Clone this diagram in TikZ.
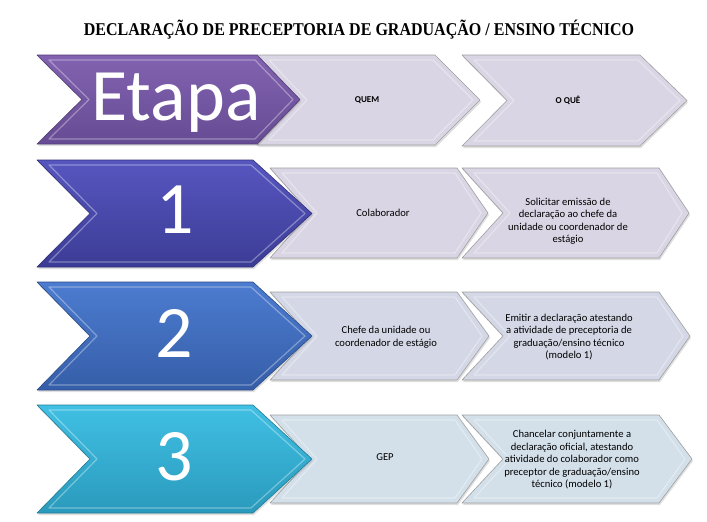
\documentclass[tikz,border=0pt]{standalone}
\usepackage{fontspec}
\setmainfont{Liberation Serif}
\newfontfamily\calibri{Carlito}
\usepackage{tikz}
\usetikzlibrary{shadows}

\definecolor{etapatop}{RGB}{130, 98, 176}
\definecolor{etapabot}{RGB}{102, 76, 148}
\definecolor{onetop}{RGB}{86, 86, 192}
\definecolor{onebot}{RGB}{60, 60, 150}
\definecolor{twotop}{RGB}{76, 124, 208}
\definecolor{twobot}{RGB}{54, 94, 168}
\definecolor{threetop}{RGB}{64, 192, 228}
\definecolor{threebot}{RGB}{42, 154, 188}
\definecolor{graylav}{RGB}{217, 213, 228}
\definecolor{grayblue}{RGB}{212, 216, 230}
\definecolor{graycyan}{RGB}{211, 224, 234}

% chevron: left, notch, shoulder, tip, top, bottom, style
\newcommand{\chevron}[7]{%
  \path[#7] (#1,#5) -- (#3,#5) -- (#4,{(#5+#6)/2}) -- (#3,#6) -- (#1,#6) -- (#2,{(#5+#6)/2}) -- cycle;
  \draw[bevel] ({#1+12},{#5+5}) -- ({#3-2},{#5+5}) -- ({#4-7},{(#5+#6)/2}) -- ({#3-2},{#6-5}) -- ({#1+12},{#6-5}) -- ({#2+7},{(#5+#6)/2}) -- cycle;
}

\begin{document}
\begin{tikzpicture}[x=1pt, y=-1pt,
  bevel/.style={white, opacity=.35, line width=1.2pt, line join=round},
  greybox/.style={fill=#1, draw=gray!75, line width=.6pt, line join=round,
    drop shadow={opacity=.25, shadow xshift=1pt, shadow yshift=-2pt}},
  stepbox/.style={top color=#1top, bottom color=#1bot, draw=#1bot!80!black, line width=.6pt, line join=round,
    drop shadow={opacity=.25, shadow xshift=1pt, shadow yshift=-2pt}},
  bignum/.style={anchor=base, text=white, font=\calibri\fontsize{74}{80}\selectfont},
  cell/.style={align=center, inner sep=0pt, font=\calibri\fontsize{10.6}{12.5}\selectfont},
  head/.style={inner sep=0pt, font=\calibri\bfseries\fontsize{9}{11}\selectfont}]
  \useasboundingbox[fill=white] (0,0) rectangle (707,522);

  % Title
  \node[anchor=base] (title) at (359,35) {\scalebox{0.89}[1]{\fontsize{18}{20}\selectfont\bfseries DECLARAÇÃO DE PRECEPTORIA DE GRADUAÇÃO / ENSINO TÉCNICO}};

  % Header row
  \chevron{462}{507}{640}{687}{55}{146}{greybox=graylav}
  \chevron{257}{300}{435}{480}{55}{145}{greybox=graylav}
  \chevron{37}{82}{257}{300}{55}{144}{stepbox=etapa}
  \node[bignum] (etapa) at (176,120) {Etapa};
  \node[head] (quem) at (367,100) {QUEM};
  \node[head] (oque) at (568,100) {O QUÊ};

  % Step 1
  \chevron{462}{503}{659}{689}{168}{258}{greybox=graylav}
  \chevron{270}{310}{457}{488}{168}{258}{greybox=graylav}
  \chevron{37}{90}{253}{312}{160}{267}{stepbox=one}
  \node[bignum] (num1) at (175,233) {1};
  \node[cell] (who1) at (383,213) {Colaborador};
  \node[cell] (what1) at (568,221) {Solicitar emissão de\\declaração ao chefe da\\unidade ou coordenador de\\estágio};

  % Step 2
  \chevron{462}{503}{659}{690}{292}{380}{greybox=grayblue}
  \chevron{270}{310}{457}{489}{292}{380}{greybox=grayblue}
  \chevron{37}{90}{253}{312}{282}{390}{stepbox=two}
  \node[bignum] (num2) at (174,357) {2};
  \node[cell] (who2) at (386,337) {Chefe da unidade ou\\coordenador de estágio};
  \node[cell] (what2) at (569,337) {Emitir a declaração atestando\\a atividade de preceptoria de\\graduação/ensino técnico\\(modelo 1)};

  % Step 3
  \chevron{462}{503}{659}{692}{415}{503}{greybox=graycyan}
  \chevron{270}{310}{457}{489}{415}{503}{greybox=graycyan}
  \chevron{37}{90}{253}{312}{405}{513}{stepbox=three}
  \node[bignum] (num3) at (174,480) {3};
  \node[cell] (who3) at (385,457) {GEP};
  \node[cell] (what3) at (572,460) {Chancelar conjuntamente a\\declaração oficial, atestando\\atividade do colaborador como\\preceptor de graduação/ensino\\técnico (modelo 1)};
\end{tikzpicture}
\end{document}
